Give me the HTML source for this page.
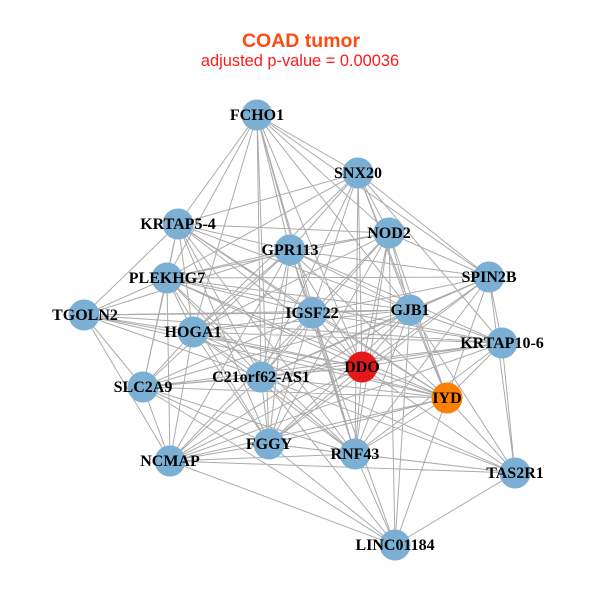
<!DOCTYPE html>
<html><head><meta charset="utf-8"><style>
html,body{margin:0;padding:0;background:#fff;}
svg{display:block;}
.lb{font-family:"Liberation Serif",serif;font-weight:bold;font-size:16px;fill:#000;text-anchor:middle;}
</style></head><body>
<svg width="600" height="600" viewBox="0 0 600 600" xmlns="http://www.w3.org/2000/svg">
<text x="301" y="47" text-anchor="middle" font-family="Liberation Sans, sans-serif" font-weight="bold" font-size="19.5" fill="#FF4A12">COAD tumor</text>
<text x="300" y="66" text-anchor="middle" font-family="Liberation Sans, sans-serif" font-size="16.4" fill="#FF1A1A">adjusted p-value = 0.00036</text>
<path stroke="#ababab" stroke-width="1" fill="none" d="
M257 115L358 173M257 115L178 224M257 115L389 233M257 115L290 250M257 115L489 277M257 115L167 278M257 115L410 310M257 115L312 313M257 115L193 332M257 115L362 367M257 115L261 377M257 115L269 444M257 115L355 454
M358 173L178 224M358 173L389 233M358 173L290 250M358 173L489 277M358 173L167 278M358 173L410 310M358 173L312 313M358 173L193 332M358 173L502 343M358 173L362 367M358 173L261 377M358 173L447 398M358 173L355 454
M178 224L389 233M178 224L290 250M178 224L167 278M178 224L84 315M178 224L410 310M178 224L312 313M178 224L193 332M178 224L362 367M178 224L261 377M178 224L143 387M178 224L447 398M178 224L269 444M178 224L355 454
M389 233L290 250M389 233L489 277M389 233L167 278M389 233L410 310M389 233L312 313M389 233L193 332M389 233L362 367M389 233L261 377M389 233L447 398M389 233L269 444M389 233L355 454M389 233L395 545
M290 250L489 277M290 250L167 278M290 250L84 315M290 250L410 310M290 250L312 313M290 250L193 332M290 250L502 343M290 250L362 367M290 250L261 377M290 250L143 387M290 250L447 398M290 250L269 444M290 250L355 454M290 250L170 461
M489 277L167 278M489 277L410 310M489 277L312 313M489 277L502 343M489 277L362 367M489 277L261 377M489 277L447 398M489 277L355 454M489 277L515 473M489 277L269 444
M167 278L84 315M167 278L410 310M167 278L312 313M167 278L193 332M167 278L502 343M167 278L362 367M167 278L261 377M167 278L143 387M167 278L447 398M167 278L269 444M167 278L355 454M167 278L170 461
M84 315L410 310M84 315L312 313M84 315L193 332M84 315L362 367M84 315L261 377M84 315L143 387M84 315L447 398M84 315L170 461M84 315L502 343
M410 310L312 313M410 310L193 332M410 310L502 343M410 310L362 367M410 310L261 377M410 310L143 387M410 310L447 398M410 310L269 444M410 310L355 454M410 310L170 461M410 310L515 473M410 310L395 545
M312 313L193 332M312 313L502 343M312 313L362 367M312 313L261 377M312 313L143 387M312 313L447 398M312 313L269 444M312 313L355 454M312 313L170 461M312 313L395 545
M193 332L502 343M193 332L362 367M193 332L261 377M193 332L143 387M193 332L447 398M193 332L269 444M193 332L355 454M193 332L170 461M193 332L515 473
M502 343L362 367M502 343L261 377M502 343L143 387M502 343L447 398M502 343L170 461M502 343L515 473M502 343L355 454
M362 367L261 377M362 367L143 387M362 367L447 398M362 367L269 444M362 367L355 454M362 367L170 461M362 367L515 473
M261 377L143 387M261 377L447 398M261 377L269 444M261 377L355 454M261 377L170 461M261 377L515 473M261 377L395 545
M143 387L447 398M143 387L269 444M143 387L355 454M143 387L170 461M143 387L395 545
M447 398L269 444M447 398L355 454M447 398L170 461M447 398L515 473M447 398L395 545
M269 444L355 454M269 444L170 461M269 444L515 473M269 444L395 545
M355 454L170 461M355 454L515 473M355 454L395 545
M170 461L515 473M170 461L395 545
M515 473L395 545"/>
<g fill="#7BAFD3">
<circle cx="257" cy="115" r="15.5"/>
<circle cx="358" cy="173" r="15.5"/>
<circle cx="178" cy="224" r="15.5"/>
<circle cx="389" cy="233" r="15.5"/>
<circle cx="290" cy="250" r="15.5"/>
<circle cx="489" cy="277" r="15.5"/>
<circle cx="167" cy="278" r="15.5"/>
<circle cx="84" cy="315" r="15.5"/>
<circle cx="410" cy="310" r="15.5"/>
<circle cx="312" cy="313" r="15.5"/>
<circle cx="193" cy="332" r="15.5"/>
<circle cx="502" cy="343" r="15.5"/>
<circle cx="362" cy="367" r="15.5" fill="#E3191C"/>
<circle cx="261" cy="377" r="15.5"/>
<circle cx="143" cy="387" r="15.5"/>
<circle cx="447" cy="398" r="15.5" fill="#FF7F00"/>
<circle cx="269" cy="444" r="15.5"/>
<circle cx="355" cy="454" r="15.5"/>
<circle cx="170" cy="461" r="15.5"/>
<circle cx="515" cy="473" r="15.5"/>
<circle cx="395" cy="545" r="15.5"/>
</g>
<text class="lb" x="257" y="120">FCHO1</text>
<text class="lb" x="358" y="178">SNX20</text>
<text class="lb" x="178" y="229">KRTAP5-4</text>
<text class="lb" x="389" y="238">NOD2</text>
<text class="lb" x="290" y="255">GPR113</text>
<text class="lb" x="489" y="282">SPIN2B</text>
<text class="lb" x="167" y="283">PLEKHG7</text>
<text class="lb" x="85" y="320">TGOLN2</text>
<text class="lb" x="410" y="315">GJB1</text>
<text class="lb" x="312" y="318">IGSF22</text>
<text class="lb" x="193" y="337">HOGA1</text>
<text class="lb" x="502" y="348">KRTAP10-6</text>
<text class="lb" x="362" y="372">DDO</text>
<text class="lb" x="261" y="382">C21orf62-AS1</text>
<text class="lb" x="143" y="392">SLC2A9</text>
<text class="lb" x="447" y="403">IYD</text>
<text class="lb" x="269" y="449">FGGY</text>
<text class="lb" x="355" y="459">RNF43</text>
<text class="lb" x="170" y="466">NCMAP</text>
<text class="lb" x="515" y="478">TAS2R1</text>
<text class="lb" x="395" y="550">LINC01184</text>
</svg>
</body></html>
